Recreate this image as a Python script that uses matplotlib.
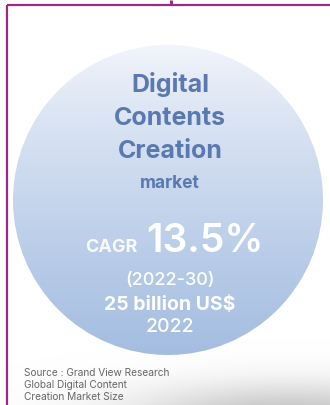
import numpy as np
import matplotlib.pyplot as plt
from matplotlib.patches import Circle

# market figures
title_lines = ["Digital", "Contents", "Creation"]
subtitle = "market"
cagr = 13.5
period = "(2022-30)"
market_size = 25
base_year = 2022
source_lines = ["Source : Grand View Research",
                "Global Digital Content",
                "Creation Market Size"]

W, H = 330, 405
fig = plt.figure(figsize=(W / 100, H / 100), dpi=100)
ax = fig.add_axes([0, 0, 1, 1])
ax.set_xlim(0, W)
ax.set_ylim(H, 0)
ax.axis("off")

# soft grey shadow at bottom right
yy, xx = np.mgrid[0:H, 0:W]
sh = np.exp(-(((xx - 290) / 160.0) ** 2 + ((yy - 418) / 34.0) ** 2))
shadow = np.ones((H, W, 4))
shadow[..., :3] = 0.76
shadow[..., 3] = np.clip(sh, 0, 1)
ax.imshow(shadow, extent=(0, W, H, 0), zorder=1)

# circle with vertical gradient
cx, cy, r = 168, 200, 155
t = np.linspace(0, 1, 256)[:, None]
top = np.array([0.95, 0.96, 0.985])
bot = np.array([0.64, 0.74, 0.88])
grad = top + (bot - top) * t[..., None] ** 0.85
grad = np.repeat(grad, 2, axis=1)
circ = Circle((cx, cy), r, transform=ax.transData, facecolor="none", edgecolor="none")
ax.add_patch(circ)
im = ax.imshow(grad, extent=(cx - r, cx + r, cy + r, cy - r), zorder=2, interpolation="bilinear")
im.set_clip_path(circ)

# frame lines
frame = "#9b2a86"
ax.plot([6.5, W], [4.5, 4.5], color=frame, lw=1.6, zorder=5, solid_capstyle="butt")
ax.plot([6.5, 6.5], [4.5, H], color=frame, lw=1.6, zorder=5, solid_capstyle="butt")
ax.plot([170.5, 170.5], [0, 4.5], color=frame, lw=2.2, zorder=5, solid_capstyle="butt")

font = "Inter"
blue = "#5a79b0"
mid = 170
for i, line in enumerate(title_lines):
    ax.text(mid, 92 + i * 33, line, ha="center", va="baseline", fontsize=18,
            fontweight="bold", color=blue, family=font, zorder=6)
ax.text(mid, 188, subtitle, ha="center", va="baseline", fontsize=12.5,
        fontweight="bold", color=blue, family=font, zorder=6)

ax.text(138, 252, "CAGR", ha="right", va="baseline", fontsize=13,
        fontweight="bold", color="white", alpha=0.9, family=font, zorder=6)
ax.text(146, 252, f"{cagr}%", ha="left", va="baseline", fontsize=28,
        fontweight="semibold", color="white", family=font, zorder=6)
ax.text(mid, 285, period, ha="center", va="baseline", fontsize=13,
        fontweight="medium", color="white", family=font, zorder=6)
ax.text(mid, 310, f"{market_size} billion US$", ha="center", va="baseline",
        fontsize=14, fontweight="bold", color="white", family=font, zorder=6)
ax.text(mid, 332, f"{base_year}", ha="center", va="baseline", fontsize=14,
        fontweight="medium", color="white", family=font, zorder=6)

for i, line in enumerate(source_lines):
    ax.text(24, 376 + i * 12, line, ha="left", va="baseline", fontsize=7.3,
            color="#666666", family=font, zorder=6)

fig.savefig("out.png", dpi=100)
